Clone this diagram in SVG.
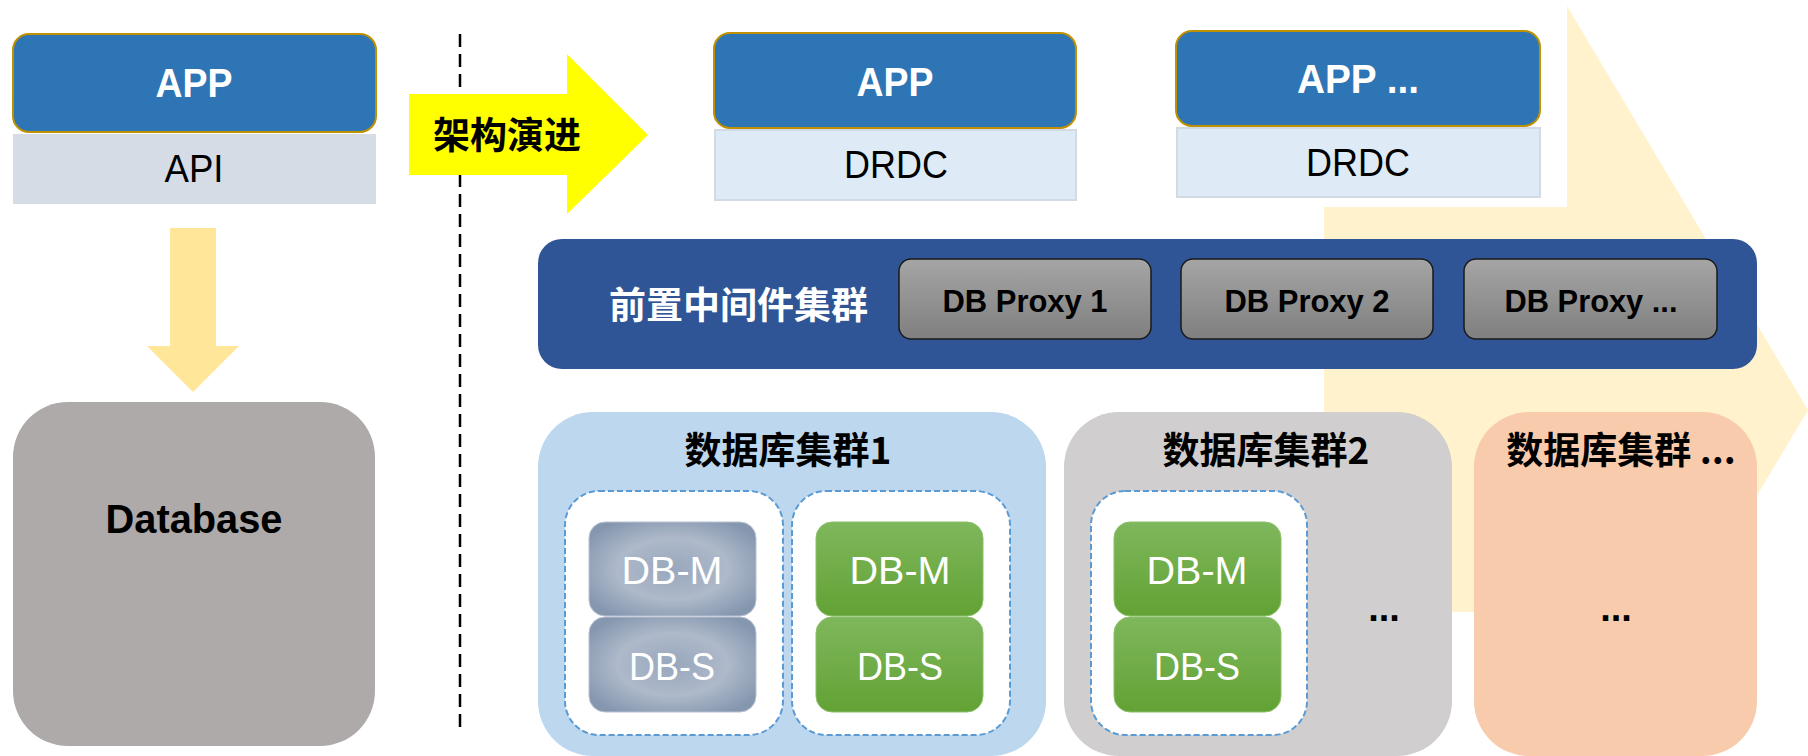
<svg xmlns="http://www.w3.org/2000/svg" width="1808" height="756" viewBox="0 0 1808 756">
<style>
.lat{font-family:"Liberation Sans",Arial,sans-serif}
.cjk{font-family:"Noto Sans CJK SC","Liberation Sans",sans-serif;font-weight:bold}
.b{font-weight:bold}
.app{fill:#2E75B6;stroke:#BF9000;stroke-width:2}
.drdc{fill:#DEEBF7;stroke:#D3DAE4;stroke-width:2}
.proxy{fill:url(#gProxy);stroke:#1a1a1a;stroke-width:1.5}
.inner{fill:#FFFFFF;stroke:#5B9BD5;stroke-width:2;stroke-dasharray:6 3}
.dbg{fill:url(#gGray);stroke:#B8C2D2;stroke-width:1}
.dbn{fill:url(#gGreen);stroke:#8CC06A;stroke-width:1}
.wt{fill:#FFFFFF}
.bk{fill:#000000}
</style>
<defs>
<linearGradient id="gProxy" x1="0" y1="0" x2="0" y2="1">
<stop offset="0" stop-color="#A5A5A5"/>
<stop offset="1" stop-color="#7F7F7F"/>
</linearGradient>
<linearGradient id="gGreen" x1="0" y1="0" x2="0" y2="1">
<stop offset="0" stop-color="#7FB75C"/>
<stop offset="1" stop-color="#62A234"/>
</linearGradient>
<radialGradient id="gGray" cx="0.5" cy="0.5" r="0.6">
<stop offset="0" stop-color="#98A7BC"/>
<stop offset="0.55" stop-color="#AEB9CA"/>
<stop offset="1" stop-color="#8597AF"/>
</radialGradient>
</defs>

<!-- background evolution arrow -->
<polygon id="bgArrow" points="1324,207 1567,207 1567,6 1808,410 1567,814 1567,612 1324,612" fill="#FFF2CC"/>

<g id="left-app">
<rect x="13" y="34" width="363" height="98" rx="16" class="app"/>
<text x="194" y="97" text-anchor="middle" font-size="40" textLength="77" lengthAdjust="spacingAndGlyphs" class="lat b wt">APP</text>
</g>
<g id="left-api">
<rect x="13" y="134" width="363" height="70" fill="#D6DCE5"/>
<text x="194" y="182" text-anchor="middle" font-size="39" textLength="59" lengthAdjust="spacingAndGlyphs" class="lat bk">API</text>
</g>

<g id="connectors">
<polygon id="downArrow" points="170,228 216,228 216,346 239,346 193,392 147,346 170,346" fill="#FFE699"/>
<line x1="460" y1="34" x2="460" y2="727" stroke="#000000" stroke-width="2.5" stroke-dasharray="13 7"/>
<polygon id="evolveArrow" points="409,94 567,94 567,54 648,135 567,214 567,175 409,175" fill="#FFFF00"/>
<text x="433" y="149" font-size="37" class="cjk bk">架构演进</text>
</g>

<g id="database">
<rect x="13" y="402" width="362" height="344" rx="55" fill="#AEAAAA"/>
<text x="194" y="533" text-anchor="middle" font-size="40" textLength="177" lengthAdjust="spacingAndGlyphs" class="lat b bk">Database</text>
</g>

<g id="app2">
<rect x="714" y="33" width="362" height="95" rx="16" class="app"/>
<text x="895" y="96" text-anchor="middle" font-size="40" textLength="77" lengthAdjust="spacingAndGlyphs" class="lat b wt">APP</text>
</g>
<g id="drdc1">
<rect x="715" y="130" width="361" height="70" class="drdc"/>
<text x="896" y="178" text-anchor="middle" font-size="39" textLength="104" lengthAdjust="spacingAndGlyphs" class="lat bk">DRDC</text>
</g>
<g id="app3">
<rect x="1176" y="31" width="364" height="95" rx="16" class="app"/>
<text x="1358" y="93" text-anchor="middle" font-size="40" textLength="122" lengthAdjust="spacingAndGlyphs" class="lat b wt">APP ...</text>
</g>
<g id="drdc2">
<rect x="1177" y="128" width="363" height="69" class="drdc"/>
<text x="1358" y="176" text-anchor="middle" font-size="39" textLength="104" lengthAdjust="spacingAndGlyphs" class="lat bk">DRDC</text>
</g>

<g id="middleware">
<rect x="538" y="239" width="1219" height="130" rx="24" fill="#2F5597"/>
<text x="609" y="319" font-size="37" class="cjk wt">前置中间件集群</text>
</g>
<g id="proxy1">
<rect x="899" y="259" width="252" height="80" rx="12" class="proxy"/>
<text x="1025" y="312" text-anchor="middle" font-size="32" textLength="165" lengthAdjust="spacingAndGlyphs" class="lat b bk">DB Proxy 1</text>
</g>
<g id="proxy2">
<rect x="1181" y="259" width="252" height="80" rx="12" class="proxy"/>
<text x="1307" y="312" text-anchor="middle" font-size="32" textLength="165" lengthAdjust="spacingAndGlyphs" class="lat b bk">DB Proxy 2</text>
</g>
<g id="proxy3">
<rect x="1464" y="259" width="253" height="80" rx="12" class="proxy"/>
<text x="1591" y="312" text-anchor="middle" font-size="32" textLength="173" lengthAdjust="spacingAndGlyphs" class="lat b bk">DB Proxy ...</text>
</g>

<g id="cluster1">
<rect x="538" y="412" width="508" height="344" rx="55" fill="#BDD7EE"/>
<text x="788" y="464" text-anchor="middle" font-size="37" class="cjk bk">数据库集群1</text>
<rect x="565" y="491" width="218" height="244" rx="34" class="inner"/>
<rect x="792" y="491" width="218" height="244" rx="34" class="inner"/>
</g>
<g id="c1-pair1-m">
<rect x="589" y="522" width="167" height="94" rx="16" class="dbg"/>
<text x="672" y="584" text-anchor="middle" font-size="39" textLength="101" lengthAdjust="spacingAndGlyphs" class="lat wt">DB-M</text>
</g>
<g id="c1-pair1-s">
<rect x="589" y="617" width="167" height="95" rx="16" class="dbg"/>
<text x="672" y="680" text-anchor="middle" font-size="39" textLength="86" lengthAdjust="spacingAndGlyphs" class="lat wt">DB-S</text>
</g>
<g id="c1-pair2-m">
<rect x="816" y="522" width="167" height="94" rx="16" class="dbn"/>
<text x="900" y="584" text-anchor="middle" font-size="39" textLength="101" lengthAdjust="spacingAndGlyphs" class="lat wt">DB-M</text>
</g>
<g id="c1-pair2-s">
<rect x="816" y="617" width="167" height="95" rx="16" class="dbn"/>
<text x="900" y="680" text-anchor="middle" font-size="39" textLength="86" lengthAdjust="spacingAndGlyphs" class="lat wt">DB-S</text>
</g>

<g id="cluster2">
<rect x="1064" y="412" width="388" height="344" rx="55" fill="#D0CECE"/>
<text x="1266" y="464" text-anchor="middle" font-size="37" class="cjk bk">数据库集群2</text>
<rect x="1091" y="491" width="216" height="244" rx="34" class="inner"/>
<text x="1384" y="621" text-anchor="middle" font-size="38" class="lat b bk">...</text>
</g>
<g id="c2-pair1-m">
<rect x="1114" y="522" width="167" height="94" rx="16" class="dbn"/>
<text x="1197" y="584" text-anchor="middle" font-size="39" textLength="101" lengthAdjust="spacingAndGlyphs" class="lat wt">DB-M</text>
</g>
<g id="c2-pair1-s">
<rect x="1114" y="617" width="167" height="95" rx="16" class="dbn"/>
<text x="1197" y="680" text-anchor="middle" font-size="39" textLength="86" lengthAdjust="spacingAndGlyphs" class="lat wt">DB-S</text>
</g>

<g id="cluster3">
<rect x="1474" y="412" width="283" height="344" rx="55" fill="#F8CBAD"/>
<text x="1621" y="464" text-anchor="middle" font-size="37" class="cjk bk">数据库集群 ...</text>
<text x="1616" y="621" text-anchor="middle" font-size="38" class="lat b bk">...</text>
</g>
</svg>
